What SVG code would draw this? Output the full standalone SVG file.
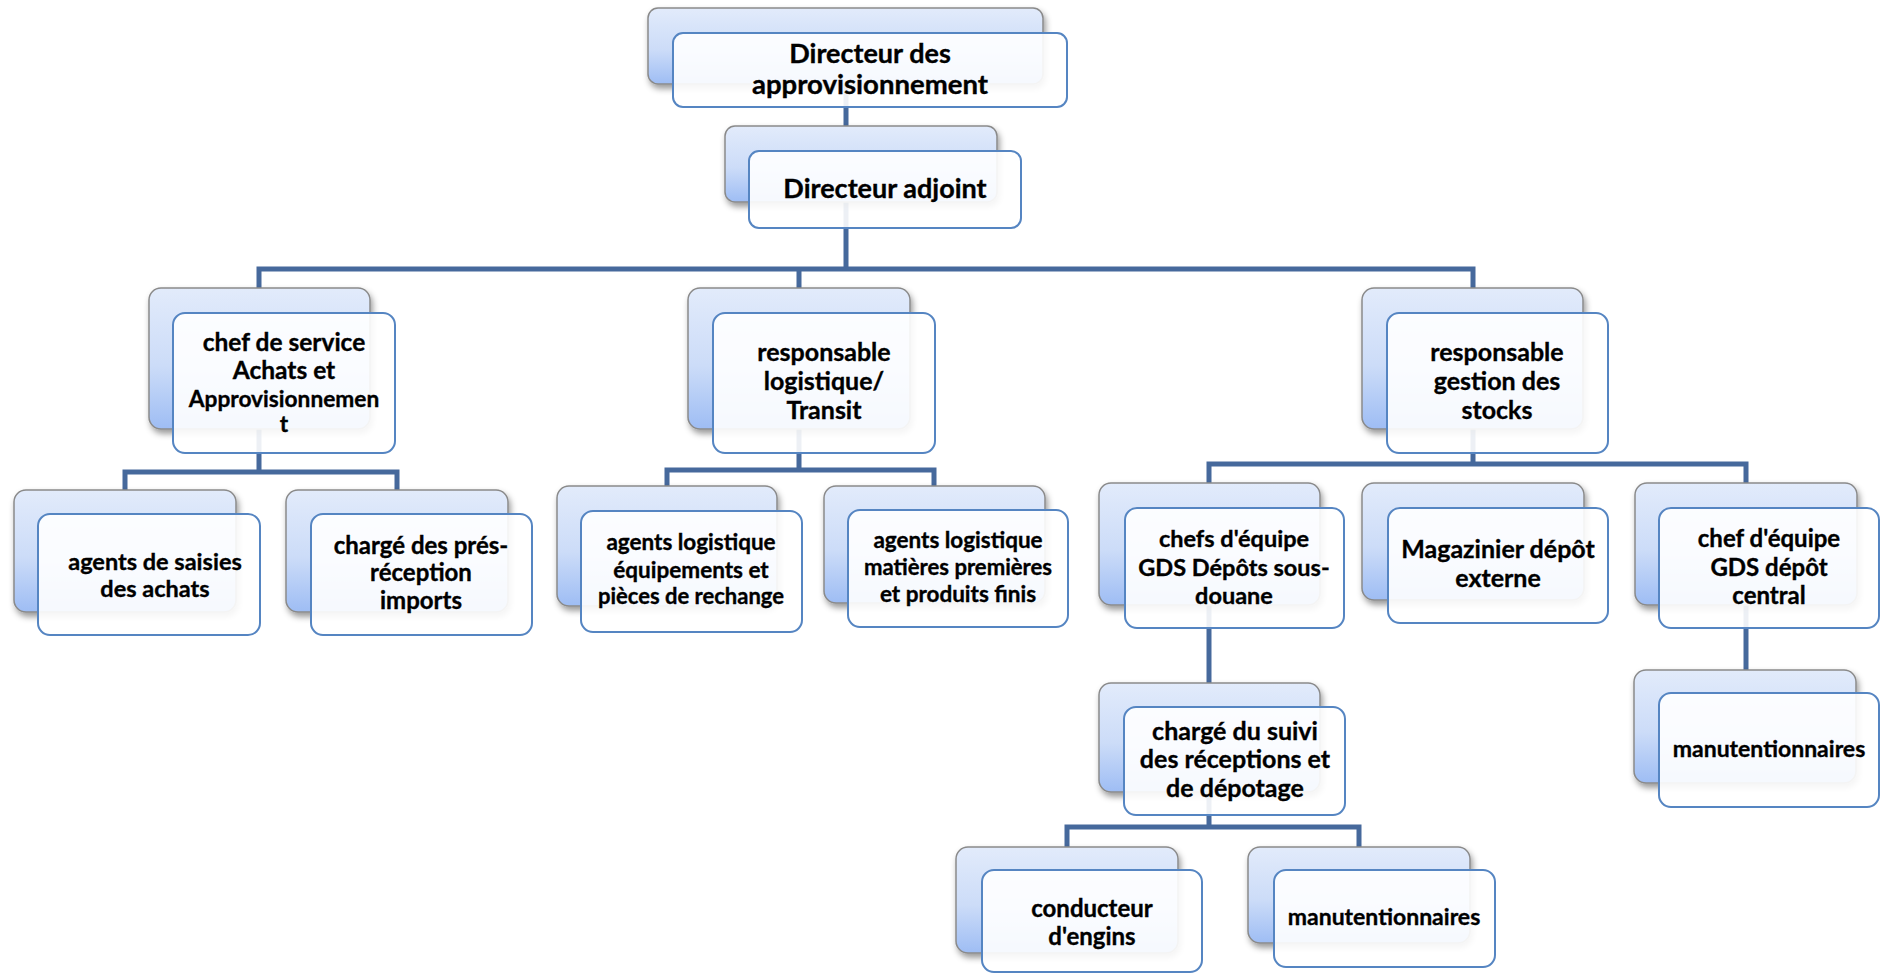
<svg xmlns="http://www.w3.org/2000/svg" width="1882" height="973" viewBox="0 0 1882 973">
  <style>
    .back { fill: url(#backFill); stroke: #8a8a8a; stroke-width: 1.5; filter: url(#shadow); }
    .front { fill: #ffffff; fill-opacity: 0.9; stroke: #5585c2; stroke-width: 2; }
    .link { fill: none; stroke: #46699c; stroke-width: 5; stroke-linejoin: miter; }
    text { font-family: Lato, "Liberation Sans", sans-serif; font-weight: bold; fill: #000000; text-anchor: middle;
           stroke: #000000; stroke-width: 0.35; }
  </style>
  <defs>
    <linearGradient id="backFill" x1="0" y1="0" x2="0" y2="1">
      <stop offset="0" stop-color="#e2ebfb"/>
      <stop offset="0.55" stop-color="#ccdcf8"/>
      <stop offset="1" stop-color="#9ebdf4"/>
    </linearGradient>
    <filter id="shadow" x="-10%" y="-10%" width="125%" height="130%">
      <feDropShadow dx="2" dy="4" stdDeviation="3" flood-color="#000000" flood-opacity="0.4"/>
    </filter>
  </defs>

  <rect width="1882" height="973" fill="#ffffff"/>

  <!-- connectors -->
  <g id="connectors">
    <path class="link" d="M846 84 V269"/>
    <path class="link" d="M259 288 V269 H1473 V288 M799 269 V288"/>
    <path class="link" d="M259 429 V472 M125 490 V472 H397 V490"/>
    <path class="link" d="M799 429 V470 M667 486 V470 H934 V486"/>
    <path class="link" d="M1473 429 V464 M1209 483 V464 H1746 V483"/>
    <path class="link" d="M1209 605 V683"/>
    <path class="link" d="M1746 605 V670"/>
    <path class="link" d="M1209 792 V827 M1067 847 V827 H1359 V847"/>
  </g>

  <!-- level 1 -->
  <g id="directeur">
    <rect class="back" x="648" y="8" width="395" height="76" rx="10"/>
    <rect class="front" x="673" y="33" width="394" height="74" rx="10"/>
    <text x="870" y="63" font-size="27">Directeur des</text>
    <text x="870" y="94" font-size="27" textLength="236" lengthAdjust="spacingAndGlyphs">approvisionnement</text>
  </g>

  <g id="adjoint">
    <rect class="back" x="725" y="126" width="272" height="76" rx="10"/>
    <rect class="front" x="749" y="151" width="272" height="77" rx="10"/>
    <text x="885" y="198" font-size="27">Directeur adjoint</text>
  </g>

  <!-- level 2 -->
  <g id="chef-achats">
    <rect class="back" x="149" y="288" width="221" height="141" rx="12"/>
    <rect class="front" x="173" y="313" width="222" height="140" rx="12"/>
    <text x="284" y="351" font-size="24.5">chef de service</text>
    <text x="284" y="379" font-size="24.5">Achats et</text>
    <text x="284" y="407" font-size="22.7">Approvisionnemen</text>
    <text x="284" y="432" font-size="22.7">t</text>
  </g>

  <g id="resp-logistique">
    <rect class="back" x="688" y="288" width="222" height="141" rx="12"/>
    <rect class="front" x="713" y="313" width="222" height="140" rx="12"/>
    <text x="824" y="361" font-size="25">responsable</text>
    <text x="824" y="390" font-size="25">logistique/</text>
    <text x="824" y="419" font-size="25">Transit</text>
  </g>

  <g id="resp-stocks">
    <rect class="back" x="1362" y="288" width="221" height="141" rx="12"/>
    <rect class="front" x="1387" y="313" width="221" height="140" rx="12"/>
    <text x="1497" y="361" font-size="25">responsable</text>
    <text x="1497" y="390" font-size="25">gestion des</text>
    <text x="1497" y="419" font-size="25">stocks</text>
  </g>

  <!-- level 3, achats -->
  <g id="agents-saisies">
    <rect class="back" x="14" y="490" width="222" height="122" rx="12"/>
    <rect class="front" x="38" y="514" width="222" height="121" rx="12"/>
    <text x="155" y="570" font-size="23.5">agents de saisies</text>
    <text x="155" y="597" font-size="23.5">des achats</text>
  </g>

  <g id="charge-pre-reception">
    <rect class="back" x="286" y="490" width="222" height="122" rx="12"/>
    <rect class="front" x="311" y="514" width="221" height="121" rx="12"/>
    <text x="421" y="554" font-size="24">chargé des prés-</text>
    <text x="421" y="581" font-size="24">réception</text>
    <text x="421" y="609" font-size="24">imports</text>
  </g>

  <!-- level 3, logistique -->
  <g id="agents-equipements">
    <rect class="back" x="557" y="486" width="220" height="120" rx="12"/>
    <rect class="front" x="581" y="511" width="221" height="121" rx="12"/>
    <text x="691" y="550" font-size="22.5">agents logistique</text>
    <text x="691" y="578" font-size="22.5">équipements et</text>
    <text x="691" y="604" font-size="22">pièces de rechange</text>
  </g>

  <g id="agents-matieres">
    <rect class="back" x="824" y="486" width="221" height="117" rx="12"/>
    <rect class="front" x="848" y="510" width="220" height="117" rx="12"/>
    <text x="958" y="548" font-size="22.5">agents logistique</text>
    <text x="958" y="575" font-size="22.5" textLength="188" lengthAdjust="spacingAndGlyphs">matières premières</text>
    <text x="958" y="602" font-size="22.5">et produits finis</text>
  </g>

  <!-- level 3, stocks -->
  <g id="chefs-equipe-douane">
    <rect class="back" x="1099" y="483" width="221" height="122" rx="12"/>
    <rect class="front" x="1125" y="508" width="219" height="120" rx="12"/>
    <text x="1234" y="547" font-size="23.5">chefs d'équipe</text>
    <text x="1234" y="576" font-size="23.5">GDS Dépôts sous-</text>
    <text x="1234" y="604" font-size="23.5">douane</text>
  </g>

  <g id="magazinier">
    <rect class="back" x="1362" y="483" width="222" height="117" rx="12"/>
    <rect class="front" x="1388" y="508" width="220" height="115" rx="12"/>
    <text x="1498" y="558" font-size="25">Magazinier dépôt</text>
    <text x="1498" y="587" font-size="25">externe</text>
  </g>

  <g id="chef-equipe-central">
    <rect class="back" x="1635" y="483" width="222" height="122" rx="12"/>
    <rect class="front" x="1659" y="508" width="220" height="120" rx="12"/>
    <text x="1769" y="547" font-size="24">chef d'équipe</text>
    <text x="1769" y="576" font-size="24">GDS dépôt</text>
    <text x="1769" y="604" font-size="24">central</text>
  </g>

  <!-- level 4 -->
  <g id="charge-suivi">
    <rect class="back" x="1099" y="683" width="221" height="109" rx="12"/>
    <rect class="front" x="1124" y="707" width="221" height="108" rx="12"/>
    <text x="1235" y="740" font-size="25">chargé du suivi</text>
    <text x="1235" y="768" font-size="25">des réceptions et</text>
    <text x="1235" y="797" font-size="25">de dépotage</text>
  </g>

  <g id="manutentionnaires-central">
    <rect class="back" x="1634" y="670" width="222" height="113" rx="12"/>
    <rect class="front" x="1659" y="693" width="220" height="114" rx="12"/>
    <text x="1769" y="757" font-size="23">manutentionnaires</text>
  </g>

  <!-- level 5 -->
  <g id="conducteur">
    <rect class="back" x="956" y="847" width="222" height="106" rx="12"/>
    <rect class="front" x="982" y="870" width="220" height="102" rx="12"/>
    <text x="1092" y="917" font-size="24">conducteur</text>
    <text x="1092" y="945" font-size="24">d'engins</text>
  </g>

  <g id="manutentionnaires-douane">
    <rect class="back" x="1248" y="847" width="222" height="96" rx="12"/>
    <rect class="front" x="1274" y="870" width="221" height="97" rx="12"/>
    <text x="1384" y="925" font-size="23">manutentionnaires</text>
  </g>
</svg>
